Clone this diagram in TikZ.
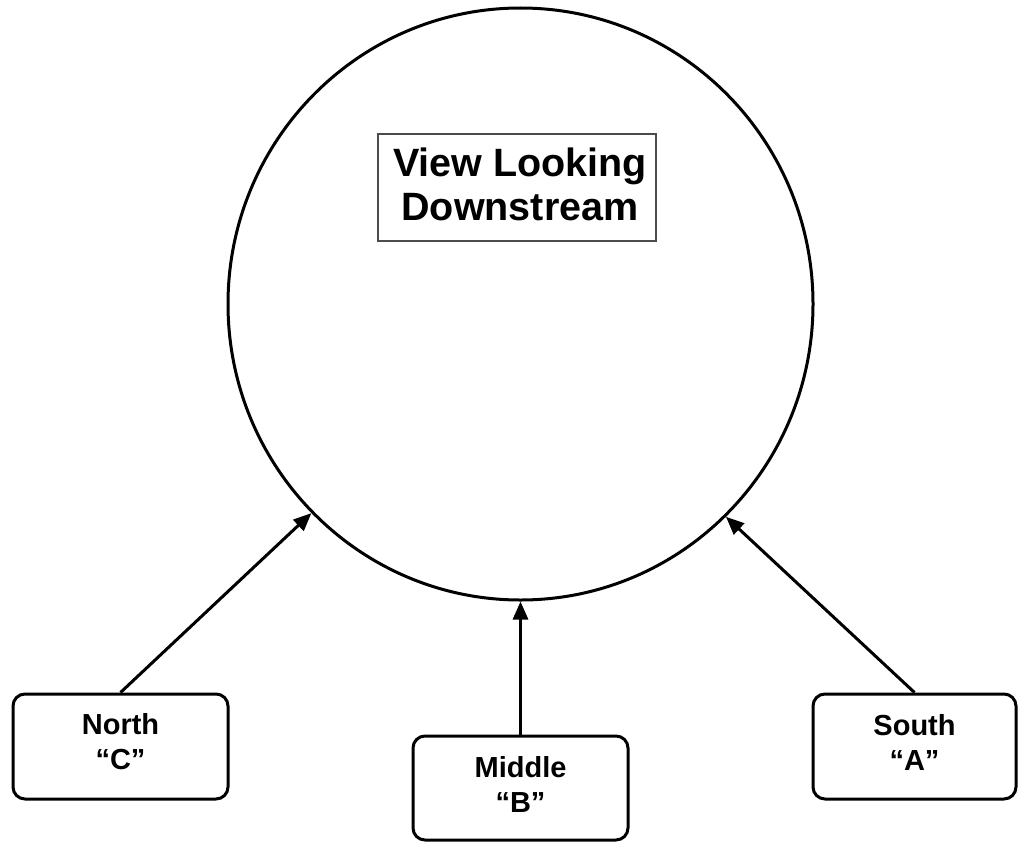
\documentclass[tikz,border=0pt]{standalone}
\usepackage{fontspec}
\setmainfont{Liberation Sans}
\usetikzlibrary{shapes.geometric,arrows.meta}
\tikzset{
  sitebox/.style={draw=black, line width=3pt, rounded corners=12pt, inner sep=0pt},
  sitelabel/.style={inner sep=0pt, align=center, font=\bfseries\fontsize{29}{35}\selectfont},
  titlebox/.style={draw=black!70, line width=1.2pt, inner sep=0pt,
    minimum width=278pt, minimum height=107pt},
  titlelabel/.style={inner sep=0pt, align=center, font=\bfseries\fontsize{39.5}{44}\selectfont},
  flow/.style={line width=3pt, -{Triangle[length=18pt,width=15pt]}}
}
\begin{document}
\begin{tikzpicture}[x=1pt,y=-1pt]
  \useasboundingbox (0,0) rectangle (1019,843);
  % cross-section seen looking downstream
  \node[ellipse, draw=black, line width=3pt, minimum width=585pt, minimum height=592pt, inner sep=0pt]
    (section) at (520.5,304) {};
  \node[titlebox] (title) at (517,187.5) {};
  \node[titlelabel] (titletext) at (520,184) {View Looking\\Downstream};
  % sampling sites
  \node[sitebox, minimum width=215pt, minimum height=105pt] (north) at (120.5,746.5) {};
  \node[sitelabel] (northtext) at (120.5,742) {North\\“C”};
  \node[sitebox, minimum width=215pt, minimum height=104pt] (middle) at (520.5,788) {};
  \node[sitelabel] (middletext) at (520.5,784.5) {Middle\\“B”};
  \node[sitebox, minimum width=203pt, minimum height=105pt] (south) at (914.5,746.5) {};
  \node[sitelabel] (southtext) at (914.5,742) {South\\“A”};
  % arrows to the section
  \draw[flow] (north.north) -- (section.225.3);
  \draw[flow] (middle.north) -- (section.270);
  \draw[flow] (south.north) -- (section.314.5);
\end{tikzpicture}
\end{document}
